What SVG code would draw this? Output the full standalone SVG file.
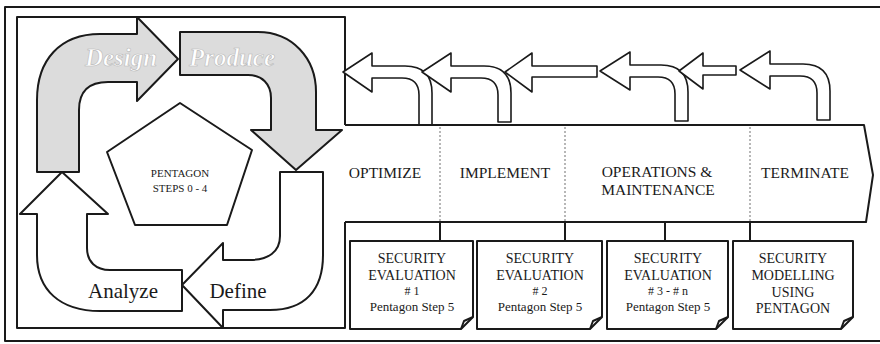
<svg xmlns="http://www.w3.org/2000/svg" width="880" height="344" viewBox="0 0 880 344">
<style>
.ln{fill:none;stroke:#1a1a1a;stroke-width:2;stroke-linejoin:round}
.wa{fill:#fff;stroke:#1a1a1a;stroke-width:2;stroke-linejoin:round}
.ga{fill:#dcdcdc;stroke:#1a1a1a;stroke-width:2;stroke-linejoin:round}
.fb{fill:#fff;stroke:#1a1a1a;stroke-width:1.6;stroke-linejoin:round}
.doc{fill:#fff;stroke:#1a1a1a;stroke-width:2;stroke-linejoin:round}
.div{stroke:#888;stroke-width:1.2;stroke-dasharray:2 2}
.con{stroke:#1a1a1a;stroke-width:2}
.t{font-family:"Liberation Serif","Times New Roman",serif;fill:#1a1a1a;text-anchor:middle}
.ph{font-size:15.5px}
.dt{font-size:14px}
.big{font-size:21px}
.wt{font-family:"Liberation Serif","Times New Roman",serif;font-size:25px;font-style:italic;font-weight:bold;fill:#fff;stroke:#b8b8b8;stroke-width:0.6;text-anchor:middle}
</style>
<rect width="880" height="344" fill="#fff"/>
<g id="frame">
<path class="ln" d="M885,7 L5,7 L5,341 L885,341" stroke-width="1.5"/>
</g>
<g id="cycle-box">
<path class="ln" d="M345,125 L345,17 L17,17 L17,328 L345,328 L345,222"/>
</g>
<g id="design">
<path class="ga" d="M37,172 L37,100 C37,60 60,34 100,34 L137,34 L137,17 L178,59 L137,101 L137,82 L108,82 C88,82 79,92 79,110 L79,172 Z"/>
<text class="wt" x="121" y="66">Design</text>
</g>
<g id="produce">
<path class="ga" d="M180,32 L258,32 C292,32 316,58 316,92 L316,130 L342,130 L296,170 L251,130 L271,130 L271,98 C271,84 262,75 248,75 L180,75 Z"/>
<text class="wt" x="232" y="66">Produce</text>
</g>
<g id="define">
<path class="wa" d="M280,172 L323,172 L323,255 C323,290 305,310 270,310 L223,310 L223,328 L182,285 L223,243 L223,260 L250,260 C268,260 280,252 280,236 Z"/>
<text class="t big" x="238" y="298">Define</text>
</g>
<g id="analyze">
<path class="wa" d="M182,270 L110,270 C96,270 87,262 87,248 L87,214 L108,214 L62,172 L20,214 L37,214 L37,255 C37,290 60,311 100,311 L182,311 Z"/>
<text class="t big" x="123" y="298">Analyze</text>
</g>
<g id="pentagon">
<path class="wa" d="M180,103 L252,150 L227,225 L135,225 L107,152 Z"/>
<text class="t" font-size="11" x="180" y="177">PENTAGON</text>
<text class="t" font-size="11" x="180" y="192">STEPS 0 - 4</text>
</g>
<g id="feedback-arrows">
<path class="fb" d="M343,72 L372,53 L372,66 L405,66 Q432,66 432,93 L432,125 L419,125 L419,95 Q419,78 402,78 L372,78 L372,92 Z"/>
<path class="fb" d="M422,72 L451,53 L451,66 L484,66 Q511,66 511,93 L511,122 L498,122 L498,95 Q498,78 481,78 L451,78 L451,92 Z"/>
<path class="fb" d="M505,72 L532,53 L532,66 L597,66 L597,77 L532,77 L532,92 Z"/>
<path class="fb" d="M600,71 L630,52 L630,65 L661,65 Q688,65 688,92 L688,121 L675,121 L675,94 Q675,77 658,77 L630,77 L630,90 Z"/>
<path class="fb" d="M679,71 L703,53 L703,66 L736,66 L736,75 L703,75 L703,89 Z"/>
<path class="fb" d="M740,70 L770,51 L770,64 L803,64 Q830,64 830,91 L830,120 L817,120 L817,93 Q817,76 800,76 L770,76 L770,89 Z"/>
</g>
<g id="timeline">
<path class="ln" d="M345,125 L864,125 L873,175 L866,222 L345,222"/>
<line class="div" x1="440" y1="127" x2="440" y2="221"/>
<line class="div" x1="565" y1="127" x2="565" y2="221"/>
<line class="div" x1="750" y1="127" x2="750" y2="221"/>
<text class="t ph" x="385" y="178">OPTIMIZE</text>
<text class="t ph" x="505" y="178">IMPLEMENT</text>
<text class="t ph" x="657" y="177">OPERATIONS &amp;</text>
<text class="t ph" x="658" y="195">MAINTENANCE</text>
<text class="t ph" x="805" y="178">TERMINATE</text>
</g>
<g id="connectors">
<line class="con" x1="440" y1="222" x2="440" y2="241" stroke="#666" stroke-width="1.2"/>
<line class="con" x1="565" y1="222" x2="565" y2="241"/>
<line class="con" x1="665" y1="222" x2="665" y2="241"/>
<line class="con" x1="750" y1="222" x2="750" y2="241"/>
</g>
<g id="doc1">
<path class="doc" d="M350,241 L473,241 L473,317 L461,329 L350,329 Z"/>
<path class="ln" stroke-width="1.4" d="M461,329 L464,321 L473,317"/>
<text class="t dt" x="412" y="263">SECURITY</text>
<text class="t dt" x="412" y="280">EVALUATION</text>
<text class="t" font-size="12" x="412" y="295"># 1</text>
<text class="t" font-size="13" x="412" y="311">Pentagon Step 5</text>
</g>
<g id="doc2">
<path class="doc" d="M477,241 L602,241 L602,317 L590,329 L477,329 Z"/>
<path class="ln" stroke-width="1.4" d="M590,329 L593,321 L602,317"/>
<text class="t dt" x="540" y="263">SECURITY</text>
<text class="t dt" x="540" y="280">EVALUATION</text>
<text class="t" font-size="12" x="540" y="295"># 2</text>
<text class="t" font-size="13" x="540" y="311">Pentagon Step 5</text>
</g>
<g id="doc3">
<path class="doc" d="M607,241 L728,241 L728,317 L716,329 L607,329 Z"/>
<path class="ln" stroke-width="1.4" d="M716,329 L719,321 L728,317"/>
<text class="t dt" x="668" y="263">SECURITY</text>
<text class="t dt" x="668" y="280">EVALUATION</text>
<text class="t" font-size="12" x="668" y="295"># 3 - # n</text>
<text class="t" font-size="13" x="668" y="311">Pentagon Step 5</text>
</g>
<g id="doc4">
<path class="doc" d="M733,241 L853,241 L853,317 L841,329 L733,329 Z"/>
<path class="ln" stroke-width="1.4" d="M841,329 L844,321 L853,317"/>
<text class="t dt" x="793" y="263">SECURITY</text>
<text class="t dt" x="793" y="280">MODELLING</text>
<text class="t dt" x="793" y="297">USING</text>
<text class="t dt" x="793" y="313">PENTAGON</text>
</g>
</svg>
